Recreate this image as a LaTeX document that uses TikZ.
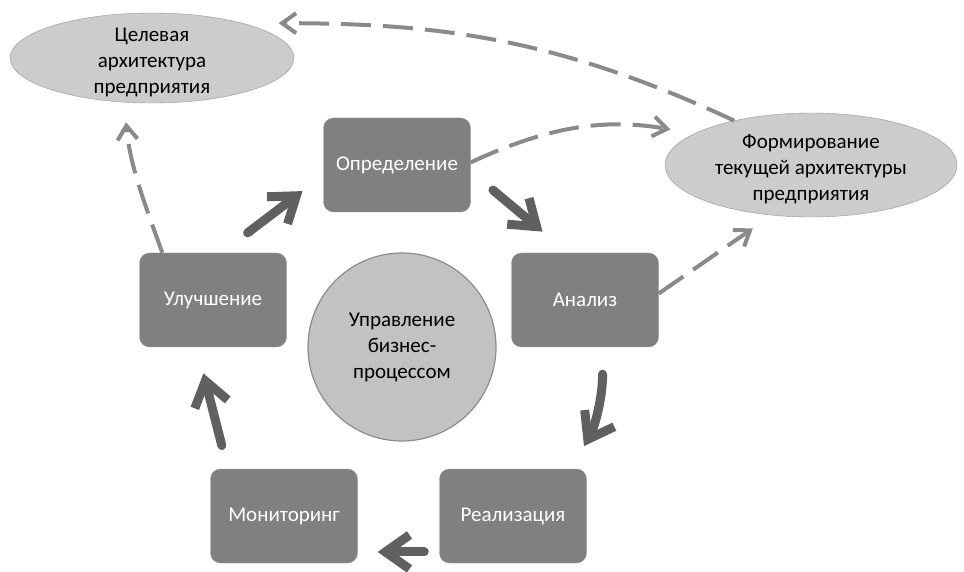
\documentclass[tikz,border=0pt]{standalone}
\usepackage{fontspec}
\setmainfont{Carlito}
\usetikzlibrary{arrows.meta}
\usetikzlibrary{shapes.geometric}

\definecolor{boxgray}{RGB}{128,128,128}
\definecolor{boxedge}{RGB}{150,150,150}
\definecolor{ellgray}{RGB}{204,204,204}
\definecolor{elledge}{RGB}{150,150,150}
\definecolor{circgray}{RGB}{194,194,194}
\definecolor{circedge}{RGB}{140,140,140}
\definecolor{arrowdark}{RGB}{96,96,96}
\definecolor{dashgray}{RGB}{138,138,138}

\begin{document}
\begin{tikzpicture}[x=1pt,y=1pt,
	phase/.style={draw=boxedge,fill=boxgray,rounded corners=10pt,minimum width=147pt,minimum height=94pt,text=white,font=\fontsize{21}{26}\selectfont},
	goal/.style={draw=elledge,fill=ellgray,shape=ellipse,inner sep=0pt},
	goaltext/.style={align=center,text=black,yshift=-4pt,font=\fontsize{21}{26}\selectfont},
	core/.style={draw=circedge,fill=circgray,line width=1.2pt,shape=circle,minimum size=188pt,inner sep=0pt,align=center,text=black,font=\fontsize{21}{26}\selectfont},
	cyc/.style={draw=arrowdark,line width=9pt,line cap=round,line join=round,-{Straight Barb[length=24pt,width=34pt]}},
	link/.style={draw=dashgray,line width=4pt,dash pattern=on 30pt off 12pt,-{Straight Barb[length=14pt,width=20pt]}}]
	\useasboundingbox (0,0) rectangle (964,571);

	\draw (152,513) node (tsel) [goal,minimum width=284pt,minimum height=90pt,label={[goaltext]center:{Целевая\\архитектура\\предприятия}}] {};
	\draw (811,406) node (tek) [goal,minimum width=292pt,minimum height=104pt,label={[goaltext]center:{Формирование\\текущей архитектуры\\предприятия}}] {};

	\draw (397,406) node (opr) [phase] {Определение};
	\draw (585,271) node (anl) [phase] {Анализ};
	\draw (513,55) node (rea) [phase] {Реализация};
	\draw (284,55) node (mon) [phase] {Мониторинг};
	\draw (213,271) node (ulu) [phase] {Улучшение};

	\draw (402,224) node (core) [core] {Управление\\бизнес-\\процессом};

	% cycle of phases
	\draw (ulu.80) edge [cyc,shorten <=33pt,shorten >=26pt] (opr.188);
	\draw (opr.355) edge [cyc,shorten <=29pt,shorten >=33pt] (anl.110);
	\draw (anl.290) edge [cyc,bend left=15,shorten <=27pt,shorten >=26pt] (rea.39);
	\draw (rea.206) edge [cyc,shorten <=15pt,shorten >=20pt] (mon.334);
	\draw (mon.140) edge [cyc,shorten <=24pt,shorten >=27pt] (ulu.251);

	% links to the architecture
	\draw (opr.2) edge [link,out=25,in=170,shorten >=24pt] (tek.165);
	\draw (anl.5) edge [link,shorten >=23pt] (tek.232);
	\draw (tek.150) edge [link,out=155,in=0,shorten >=36pt] (tsel.21);
	\draw (ulu.137) edge [link,out=110,in=275,shorten >=20pt] (tsel.238);
\end{tikzpicture}
\end{document}
